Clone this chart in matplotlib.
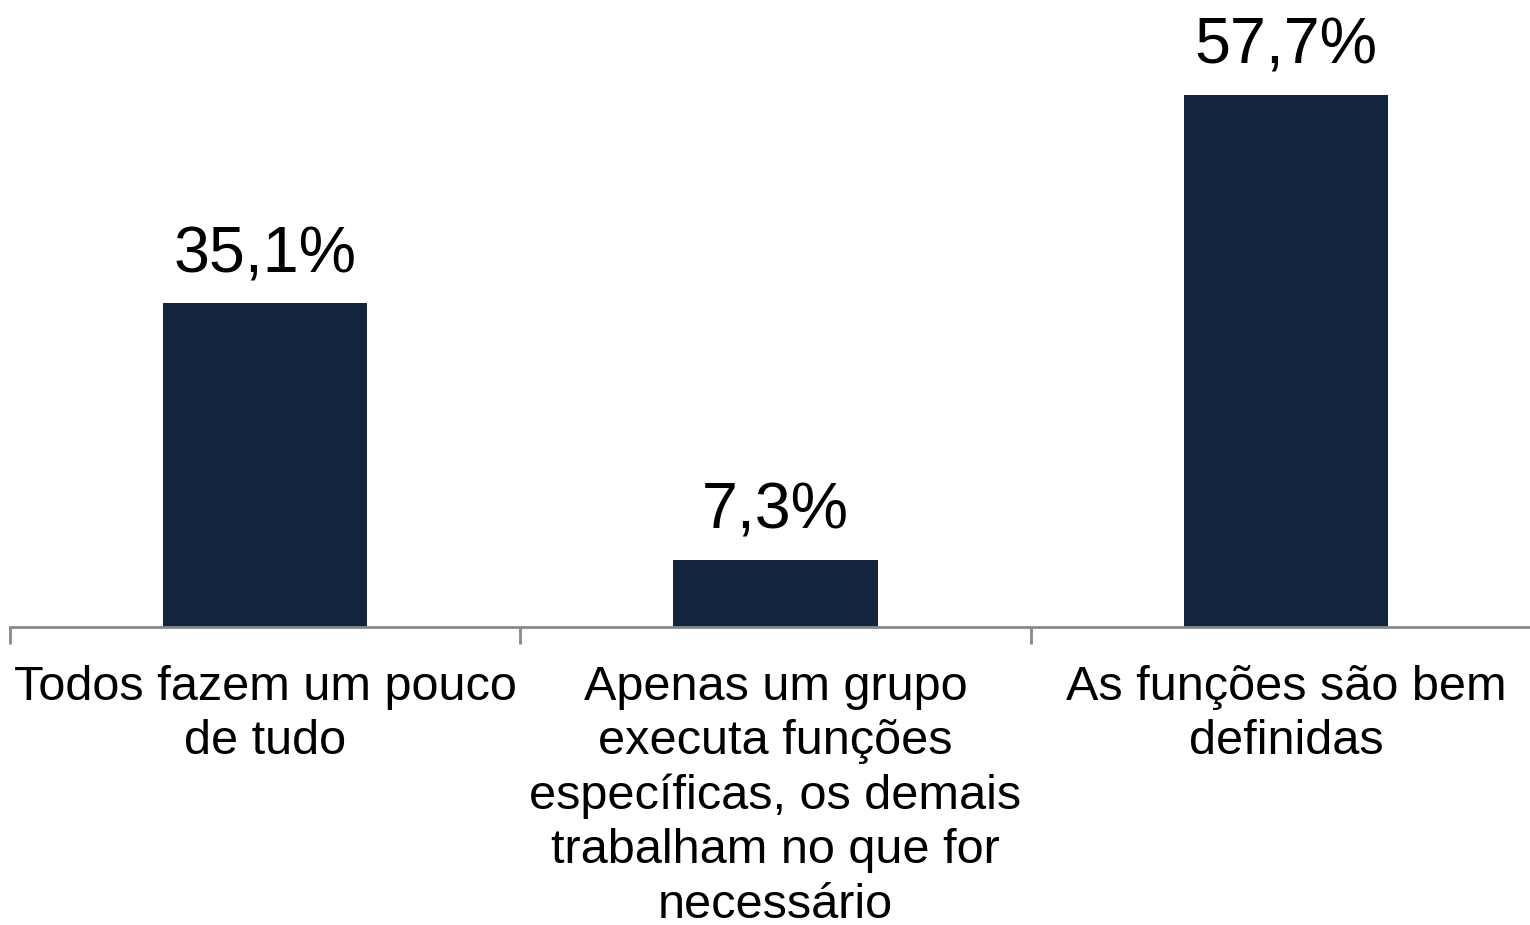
import matplotlib
matplotlib.use("Agg")
import matplotlib.pyplot as plt

# data
categories = ["Todos fazem um pouco\nde tudo",
              "Apenas um grupo\nexecuta funções\nespecíficas, os demais\ntrabalham no que for\nnecessário",
              "As funções são bem\ndefinidas"]
values = [35.1, 7.3, 57.7]
value_labels = ["35,1%", "7,3%", "57,7%"]

plt.rcParams['font.family'] = ['Liberation Sans', 'DejaVu Sans']

fig = plt.figure(figsize=(15.3, 9.25), dpi=100)
ax = fig.add_axes([10 / 1530, (925 - 627) / 925, 1531 / 1530, 627 / 925])

x = list(range(len(categories)))
ax.bar(x, values, width=0.4, color='#13243F', zorder=2)

for xi, v, lab in zip(x, values, value_labels):
    ax.annotate(lab, (xi, v), xytext=(0, 13), textcoords='offset points',
                ha='center', va='bottom', fontsize=46.5, color='black')

ax.set_xlim(-0.5, 2.5)
ax.set_ylim(0, 68)

# ticks at category boundaries, labels at centres
ax.set_xticks([-0.5, 0.5, 1.5, 2.5])
ax.set_xticklabels([])
ax.set_xticks(x, minor=True)
ax.set_xticklabels(categories, minor=True, fontsize=35, linespacing=1.27)
ax.tick_params(axis='x', which='major', length=12, width=2, color='#898989', direction='out')
ax.tick_params(axis='x', which='minor', length=0, pad=27)
ax.set_yticks([])

for side in ['top', 'right', 'left']:
    ax.spines[side].set_visible(False)
ax.spines['bottom'].set_color('#898989')
ax.spines['bottom'].set_linewidth(2)

fig.savefig("out.png", dpi=100)
